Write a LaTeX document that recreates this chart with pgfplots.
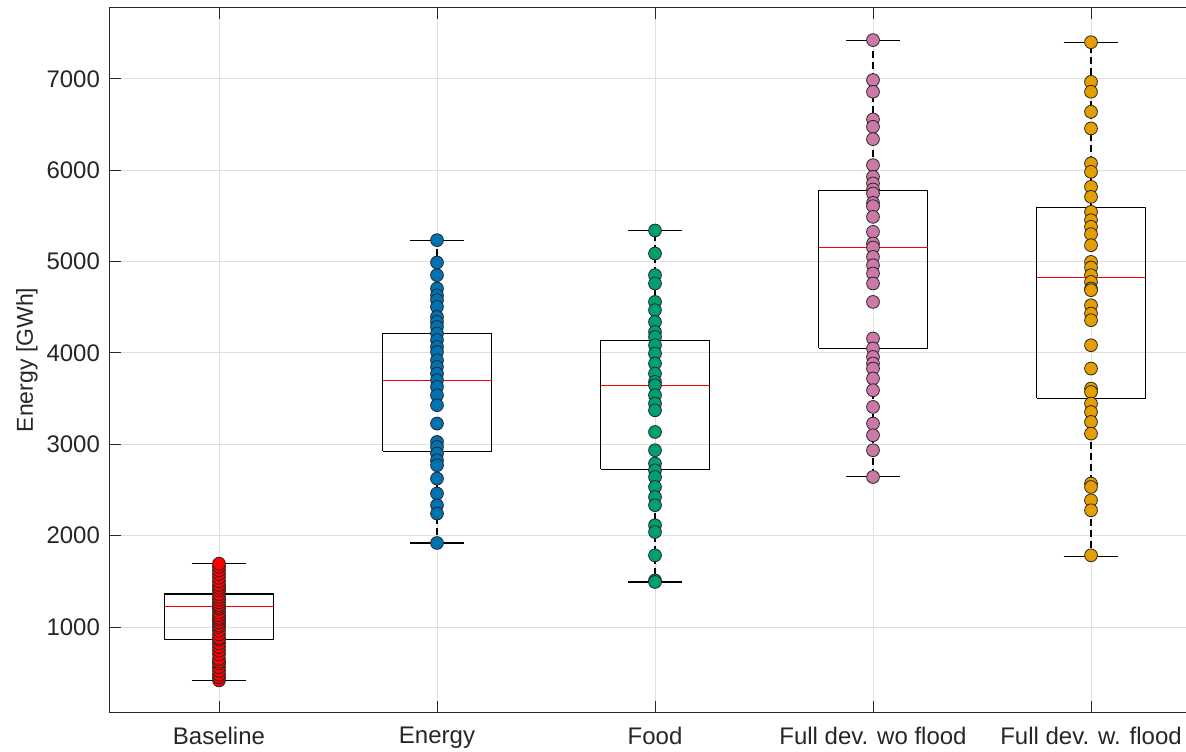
\documentclass[border=0pt]{standalone}
\usepackage{pgfplots}
\pgfplotsset{compat=1.18}
\usepackage{fontspec}
\setmainfont{Liberation Sans}
\definecolor{oired}{RGB}{255,0,0}
\definecolor{oiblue}{RGB}{0,114,178}
\definecolor{oigreen}{RGB}{0,158,115}
\definecolor{oipink}{RGB}{204,121,167}
\definecolor{oiorange}{RGB}{230,159,0}
\definecolor{axcol}{RGB}{38,38,38}
\pgfplotsset{
  pts/.style={only marks, mark=*, mark size=3.2pt, mark options={fill=#1, draw=black!85, line width=0.4pt}},
  boxl/.style={black, line width=0.55pt, mark=none},
  medl/.style={red, line width=0.55pt, mark=none},
  whl/.style={black, line width=0.55pt, dash pattern=on 3.5pt off 2pt, mark=none},
}
\begin{document}
\begin{tikzpicture}
\begin{axis}[
  scale only axis, width=545pt, height=352pt,
  xmin=0.5, xmax=5.5, ymin=70, ymax=7775,
  xtick={1,2,3,4,5},
  xticklabels={Baseline,Energy,Food,Full dev. wo flood,Full dev. w. flood},
  ytick={1000,2000,3000,4000,5000,6000,7000},
  grid=major, major grid style={black!12, line width=0.5pt},
  tick align=inside, major tick length=5.5pt,
  axis line style={axcol, line width=0.5pt}, tick style={axcol, line width=0.5pt},
  ticklabel style={font=\fontsize{12}{14}\selectfont, text=axcol},
  /pgf/number format/assume math mode=true,
  /pgf/number format/set thousands separator={},
  yticklabel style={xshift=-1.5pt},
  xticklabel style={yshift=-4pt},
  ylabel={Energy [GWh]},
  every axis y label/.style={at={(axis description cs:0,0.5)}, rotate=90, anchor=center, yshift=41.5pt, font=\fontsize{11.5}{13}\selectfont, text=axcol},
]
\coordinate (o) at (rel axis cs:0,0);
% points
\addplot[pts=oired] coordinates {(1,416) (1,450) (1,480) (1,520) (1,560) (1,600) (1,620) (1,650) (1,700) (1,740) (1,780) (1,820) (1,860) (1,880) (1,920) (1,960) (1,1000) (1,1020) (1,1050) (1,1080) (1,1100) (1,1130) (1,1160) (1,1200) (1,1220) (1,1240) (1,1270) (1,1300) (1,1330) (1,1360) (1,1400) (1,1430) (1,1460) (1,1500) (1,1540) (1,1580) (1,1620) (1,1660) (1,1694)};
\addplot[pts=oiblue] coordinates {(2,5234) (2,4990) (2,4851) (2,4705) (2,4630) (2,4577) (2,4504) (2,4394) (2,4340) (2,4285) (2,4213) (2,4140) (2,4066) (2,4011) (2,3920) (2,3847) (2,3774) (2,3701) (2,3628) (2,3537) (2,3428) (2,3227) (2,3026) (2,2971) (2,2899) (2,2825) (2,2771) (2,2625) (2,2461) (2,2333) (2,2242) (2,1920)};
\addplot[pts=oigreen] coordinates {(3,5340) (3,5088) (3,4851) (3,4760) (3,4558) (3,4468) (3,4340) (3,4230) (3,4175) (3,4084) (3,3993) (3,3884) (3,3774) (3,3683) (3,3646) (3,3537) (3,3446) (3,3372) (3,3135) (3,2935) (3,2789) (3,2716) (3,2642) (3,2533) (3,2423) (3,2333) (3,2114) (3,2040) (3,1785) (3,1510) (3,1493)};
\addplot[pts=oipink] coordinates {(4,7424) (4,6986) (4,6858) (4,6556) (4,6475) (4,6340) (4,6055) (4,5927) (4,5855) (4,5789) (4,5745) (4,5642) (4,5606) (4,5489) (4,5325) (4,5198) (4,5154) (4,5051) (4,4960) (4,4869) (4,4760) (4,4558) (4,4158) (4,4049) (4,3956) (4,3884) (4,3829) (4,3720) (4,3592) (4,3409) (4,3227) (4,3099) (4,2935) (4,2642)};
\addplot[pts=oiorange] coordinates {(5,7401) (5,6967) (5,6858) (5,6639) (5,6457) (5,6074) (5,5982) (5,5818) (5,5708) (5,5544) (5,5453) (5,5380) (5,5300) (5,5179) (5,4996) (5,4935) (5,4851) (5,4777) (5,4705) (5,4687) (5,4522) (5,4431) (5,4358) (5,4084) (5,3829) (5,3610) (5,3573) (5,3446) (5,3354) (5,3245) (5,3117) (5,2570) (5,2533) (5,2387) (5,2278) (5,1785)};
% box plots: lw q1 med q3 uw
% Baseline: 416 862 1222 1362 1694
\addplot[whl] coordinates {(1,1362) (1,1694)};
\addplot[whl] coordinates {(1,862) (1,416)};
\addplot[boxl] coordinates {(0.875,1694) (1.125,1694)};
\addplot[boxl] coordinates {(0.875,416) (1.125,416)};
\addplot[boxl] coordinates {(0.75,862) (1.25,862) (1.25,1362) (0.75,1362) (0.75,862)};
\addplot[medl] coordinates {(0.75,1222) (1.25,1222)};
% Energy: 1920 2924 3701 4213 5234
\addplot[whl] coordinates {(2,4213) (2,5234)};
\addplot[whl] coordinates {(2,2924) (2,1920)};
\addplot[boxl] coordinates {(1.875,5234) (2.125,5234)};
\addplot[boxl] coordinates {(1.875,1920) (2.125,1920)};
\addplot[boxl] coordinates {(1.75,2924) (2.25,2924) (2.25,4213) (1.75,4213) (1.75,2924)};
\addplot[medl] coordinates {(1.75,3701) (2.25,3701)};
% Food: 1493 2727 3639 4136 5340
\addplot[whl] coordinates {(3,4136) (3,5340)};
\addplot[whl] coordinates {(3,2727) (3,1493)};
\addplot[boxl] coordinates {(2.875,5340) (3.125,5340)};
\addplot[boxl] coordinates {(2.875,1493) (3.125,1493)};
\addplot[boxl] coordinates {(2.75,2727) (3.25,2727) (3.25,4136) (2.75,4136) (2.75,2727)};
\addplot[medl] coordinates {(2.75,3639) (3.25,3639)};
% Full dev wo flood: 2650 4051 5157 5782 7424
\addplot[whl] coordinates {(4,5782) (4,7424)};
\addplot[whl] coordinates {(4,4051) (4,2650)};
\addplot[boxl] coordinates {(3.875,7424) (4.125,7424)};
\addplot[boxl] coordinates {(3.875,2650) (4.125,2650)};
\addplot[boxl] coordinates {(3.75,4051) (4.25,4051) (4.25,5782) (3.75,5782) (3.75,4051)};
\addplot[medl] coordinates {(3.75,5157) (4.25,5157)};
% Full dev w flood: 1773 3503 4828 5594 7401
\addplot[whl] coordinates {(5,5594) (5,7401)};
\addplot[whl] coordinates {(5,3503) (5,1773)};
\addplot[boxl] coordinates {(4.875,7401) (5.125,7401)};
\addplot[boxl] coordinates {(4.875,1773) (5.125,1773)};
\addplot[boxl] coordinates {(4.75,3503) (5.25,3503) (5.25,5594) (4.75,5594) (4.75,3503)};
\addplot[medl] coordinates {(4.75,4828) (5.25,4828)};
\end{axis}
\pgfresetboundingbox
\path[use as bounding box] (o) ++(-55pt,-19.5pt) rectangle ++(593pt,375.5pt);
\end{tikzpicture}
\end{document}
